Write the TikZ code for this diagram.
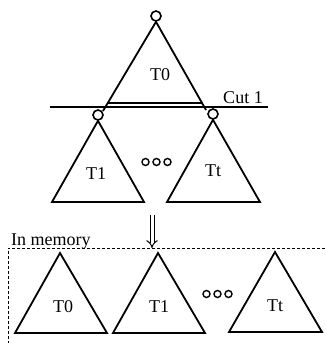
\documentclass[tikz,border=0pt]{standalone}
\usepackage{fontspec}
\setmainfont{Liberation Serif}
\usetikzlibrary{arrows.meta,positioning,calc}

\begin{document}
\begin{tikzpicture}[
  x=1pt, y=-1pt,
  tree/.style={line width=1.8pt, line join=miter},
  root/.style={circle, draw, line width=1.6pt, inner sep=0pt, minimum size=10pt, fill=white},
  dot/.style={circle, draw, line width=1.4pt, inner sep=0pt, minimum size=7pt},
  lbl/.style={font=\fontsize{18}{21}\selectfont, inner sep=0pt},
  mem/.style={dashed, dash pattern=on 3pt off 2pt, line width=0.9pt}
]
  \useasboundingbox (0,0) rectangle (325,343);

  % tree before the cut
  \node[root] (c0) at (156,16) {};
  \coordinate (l0) at (103,111);
  \coordinate (r0) at (206,110);
  \draw[tree] (l0) -- (c0.south) -- (r0);
  \draw[line width=1.4pt] (107.7,103) -- (202,103);
  \node[lbl] (t0) at (160,75) {T0};

  % the cut
  \coordinate (cutw) at (50,107);
  \coordinate (cute) at (268,107);
  \draw[line width=1.8pt] (cutw) -- (cute);
  \node[lbl, anchor=base] (cut) at (243,103) {Cut 1};

  % subtrees below the cut
  \node[root] (c1) at (98,115) {};
  \node[root] (c2) at (213,114) {};
  \draw[tree] (c1.south) -- (52,202) -- (144,202) -- cycle;
  \draw[tree] (c2.south) -- (167,202) -- (260,202) -- cycle;
  \node[lbl] (t1) at (96,174) {T1};
  \node[lbl] (tt) at (213,171) {Tt};
  \foreach \x in {145.5,156.5,167.5}
    \node[dot] at (\x,162) {};

  % into memory
  \coordinate (arrs) at (152,215);
  \coordinate (arre) at (152,248);
  \draw[line width=1pt, double=white, double distance=3pt, -{Implies}] (arrs) -- (arre);

  \node[lbl, anchor=base west] (memlbl) at (11,245) {In memory};
  \draw[mem] (325,248) -- (8,248) -- (8,343);

  \draw[tree] (60,253) -- (15,333) -- (107,333) -- cycle;
  \draw[tree] (158,253) -- (113,333) -- (205,333) -- cycle;
  \draw[tree] (275,252) -- (229,332) -- (322,332) -- cycle;
  \node[lbl] (m0) at (63,307) {T0};
  \node[lbl] (m1) at (159,307) {T1};
  \node[lbl] (mt) at (275,306) {Tt};
  \foreach \x in {206.5,217.5,228.5}
    \node[dot] at (\x,294) {};
\end{tikzpicture}
\end{document}
